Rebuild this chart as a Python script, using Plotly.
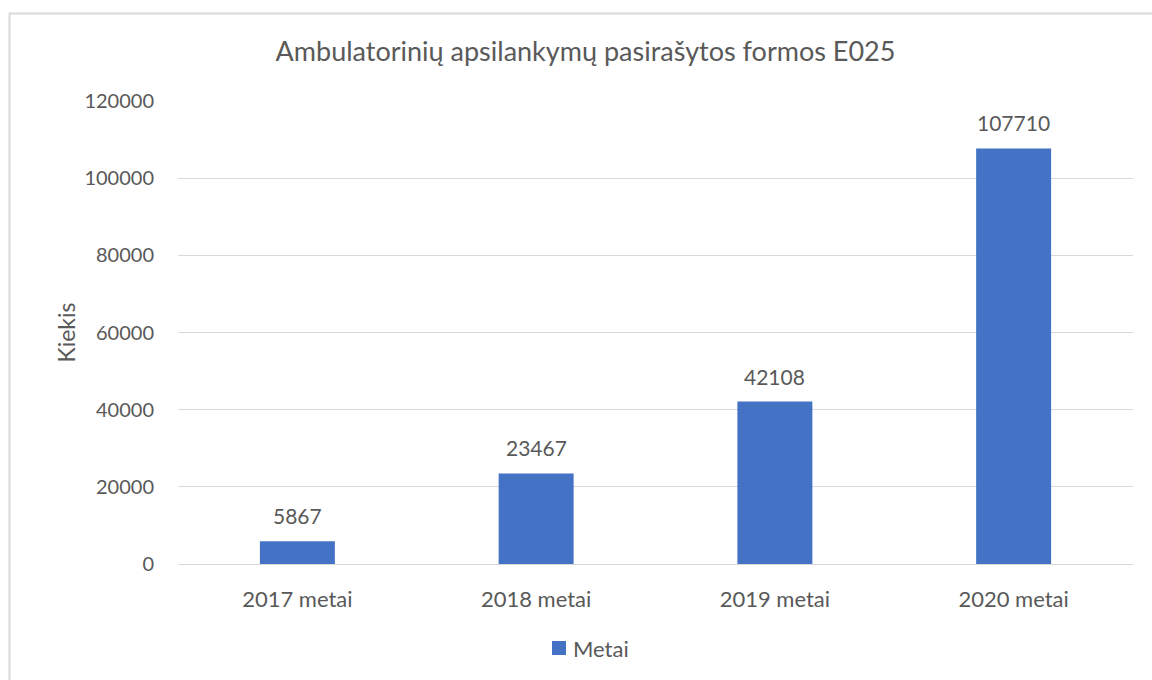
import plotly.graph_objects as go

# Signed E025 forms for outpatient visits, per year
categories = ["2017 metai", "2018 metai", "2019 metai", "2020 metai"]
values = [5867, 23467, 42108, 107710]
series_name = "Metai"
tick_values = [0, 20000, 40000, 60000, 80000, 100000, 120000]

TEXT = "#595959"
GRID = "#D9D9D9"
BAR = "#4472C4"
FONT = "Lato, Carlito, Calibri, sans-serif"

# plot area in pixels
W, H = 1152, 680
L, R, T, B = 178, 19, 101, 116
pw, ph = W - L - R, H - T - B


def px_x(x):
    return (x - L) / pw


def px_y(y):
    return (H - B - y) / ph


fig = go.Figure(
    go.Bar(
        x=categories,
        y=values,
        name=series_name,
        marker=dict(color=BAR, line=dict(width=0)),
        width=0.314,
        showlegend=False,
    )
)

# value labels above each bar
annotations = [
    dict(
        x=c,
        y=v,
        xref="x",
        yref="y",
        text=str(v),
        showarrow=False,
        yanchor="bottom",
        yshift=11,
        font=dict(family=FONT, size=21, color=TEXT),
    )
    for c, v in zip(categories, values)
]

# legend entry: swatch plus series name
annotations.append(
    dict(
        x=px_x(571),
        y=px_y(648),
        xref="paper",
        yref="paper",
        xanchor="left",
        yanchor="middle",
        text=series_name,
        showarrow=False,
        font=dict(family=FONT, size=22, color=TEXT),
    )
)

fig.update_layout(
    width=W,
    height=H,
    margin=dict(l=L, r=R, t=T, b=B, pad=0),
    paper_bgcolor="white",
    plot_bgcolor="white",
    font=dict(family=FONT, color=TEXT, size=20),
    title=dict(
        text="Ambulatorinių apsilankymų pasirašytos formos E025",
        x=px_x(585.5),
        xref="paper",
        xanchor="center",
        y=1 - 52 / H,
        yanchor="middle",
        font=dict(family=FONT, size=27, color=TEXT),
    ),
    showlegend=False,
    xaxis=dict(
        showgrid=False,
        showline=True,
        linecolor=GRID,
        linewidth=1,
        ticks="",
        ticklabelstandoff=16,
        tickfont=dict(family=FONT, size=22, color=TEXT),
    ),
    yaxis=dict(
        range=[0, 120000],
        tickvals=tick_values,
        ticktext=[str(v) for v in tick_values],
        showgrid=True,
        gridcolor=GRID,
        gridwidth=1,
        zeroline=False,
        showline=False,
        ticks="",
        ticklabelstandoff=23,
        tickfont=dict(family=FONT, size=20, color=TEXT),
        title=dict(text="Kiekis", font=dict(family=FONT, size=23, color=TEXT), standoff=2),
    ),
    annotations=annotations,
    shapes=[
        dict(
            type="rect",
            xref="paper",
            yref="paper",
            x0=px_x(9.5),
            x1=px_x(1200),
            y0=px_y(720),
            y1=px_y(13.5),
            line=dict(color=GRID, width=2),
            fillcolor="rgba(0,0,0,0)",
            layer="below",
        ),
        dict(
            type="rect",
            xref="paper",
            yref="paper",
            x0=px_x(552),
            x1=px_x(566),
            y0=px_y(655),
            y1=px_y(641),
            line=dict(width=0),
            fillcolor=BAR,
        ),
    ],
)

fig.write_html("out.html")
